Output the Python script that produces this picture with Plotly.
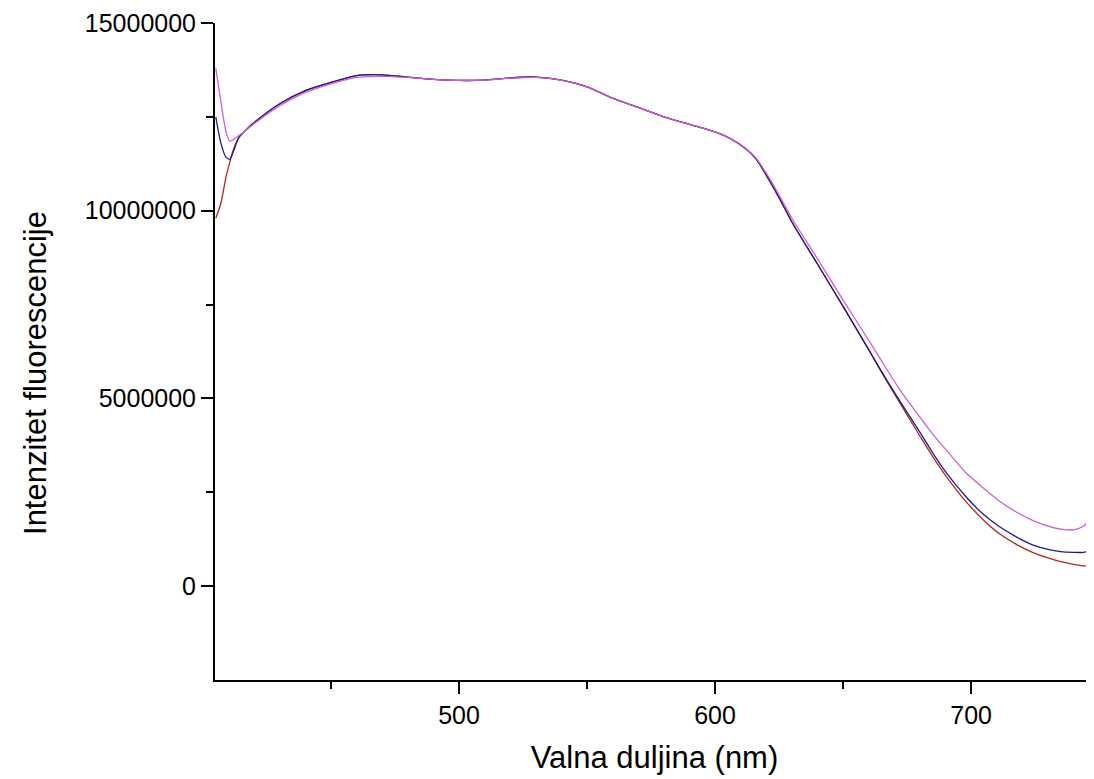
import plotly.graph_objects as go

# wavelengths (nm) and intensities (millions)
wl = [405, 407, 409, 410.5, 412, 414, 416, 420, 430, 440, 450, 460, 470, 480, 490, 500,
      510, 520, 530, 540, 550, 560, 570, 580, 590, 600, 606, 612, 616, 620, 625, 630,
      640, 650, 660, 665, 672, 680, 685, 690, 698, 705, 711, 718, 724, 730, 735, 740,
      744, 746, 748]

red = [9.8, 10.2, 10.9, 11.3, 11.65, 11.95, 12.1, 12.35, 12.85, 13.2, 13.42, 13.6, 13.62, 13.56, 13.5, 13.47,
       13.48, 13.54, 13.56, 13.48, 13.3, 13.0, 12.75, 12.5, 12.3, 12.1, 11.92, 11.65, 11.38, 10.95, 10.35, 9.7,
       8.58, 7.45, 6.3, 5.7, 4.9, 4.0, 3.45, 2.95, 2.25, 1.75, 1.4, 1.1, 0.9, 0.75, 0.65, 0.58,
       0.54, 0.52, 0.5]

blue = [12.5, 11.8, 11.42, 11.37, 11.6, 11.95, 12.1, 12.35, 12.85, 13.2, 13.42, 13.6, 13.62, 13.56, 13.5, 13.47,
        13.48, 13.54, 13.56, 13.48, 13.3, 13.0, 12.75, 12.5, 12.3, 12.1, 11.92, 11.65, 11.38, 10.95, 10.35, 9.7,
        8.58, 7.45, 6.3, 5.72, 4.95, 4.1, 3.55, 3.05, 2.38, 1.9, 1.59, 1.3, 1.1, 0.98, 0.92, 0.9,
        0.9, 0.95, 1.03]

magenta = [13.8, 12.9, 12.1, 11.85, 11.9, 12.0, 12.1, 12.32, 12.8, 13.15, 13.38, 13.55, 13.58, 13.55, 13.5, 13.47,
           13.48, 13.53, 13.55, 13.48, 13.3, 13.0, 12.75, 12.5, 12.3, 12.1, 11.92, 11.66, 11.4, 11.0, 10.42, 9.8,
           8.72, 7.62, 6.55, 6.0, 5.25, 4.5, 4.05, 3.65, 3.02, 2.6, 2.27, 1.96, 1.75, 1.6, 1.52, 1.5,
           1.6, 1.78, 2.05]

y_ticks = [0, 5000000, 10000000, 15000000]
x_ticks = [500, 600, 700]

fig = go.Figure()
for name, vals, col in [("red", red, "#b3261e"), ("blue", blue, "#1c1c8f"), ("magenta", magenta, "#cc5fd0")]:
    fig.add_trace(go.Scatter(x=wl, y=[v * 1e6 for v in vals], mode="lines", name=name,
                             line=dict(color=col, width=1.3, shape="spline", smoothing=0.6)))

font = "Liberation Sans, Arial, sans-serif"
# page body adds an 8px offset, so the figure is a little smaller than the window
fig.update_layout(
    width=1086, height=771,
    margin=dict(l=207, r=0, t=15, b=99),
    plot_bgcolor="white", paper_bgcolor="white",
    showlegend=False,
    font=dict(family=font, color="black"),
)
fig.update_xaxes(
    range=[404.7, 748], showgrid=False, zeroline=False,
    showline=True, linewidth=2, linecolor="black",
    ticks="outside", ticklen=12, tickwidth=2, tickcolor="black",
    tickvals=x_ticks, tickfont=dict(size=25),
    minor=dict(tickvals=[450, 550, 650], ticklen=7, tickwidth=2, tickcolor="black", ticks="outside"),
    title=dict(text="Valna duljina (nm)", font=dict(size=31), standoff=18),
)
fig.update_yaxes(
    range=[-2500000, 15000000], showgrid=False, zeroline=False,
    showline=True, linewidth=2, linecolor="black",
    ticks="outside", ticklen=12, tickwidth=2, tickcolor="black",
    tickvals=y_ticks, ticktext=[str(v) for v in y_ticks], tickfont=dict(size=25),
    minor=dict(tickvals=[2500000, 7500000, 12500000], ticklen=7, tickwidth=2, tickcolor="black", ticks="outside"),
)
# y title sits a bit below the axis centre in the reference, so place it by hand
fig.add_annotation(text="Intenzitet fluorescencije", textangle=-90, showarrow=False,
                   xref="paper", yref="paper", x=-0.205, y=0.467,
                   xanchor="center", yanchor="middle", font=dict(size=31))

fig.write_html("out.html")
